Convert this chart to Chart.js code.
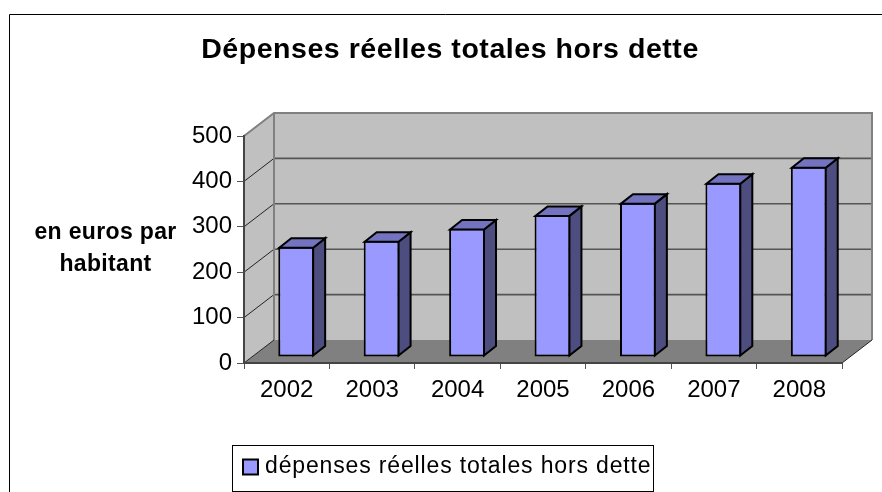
<!DOCTYPE html>
<html><head><meta charset="utf-8">
<style>html,body{margin:0;padding:0;background:#fff}canvas{display:block}</style>
<script src="https://cdn.jsdelivr.net/npm/chart.js@4/dist/chart.umd.min.js"></script>
</head><body><canvas id="c" width="882" height="492"></canvas>
<script>
const categories = ['2002','2003','2004','2005','2006','2007','2008'];
const seriesName = 'dépenses réelles totales hors dette';
const values = [243,256,283,313,340,384,419];
const yAxisLines = ['en euros par','habitant'];
const titleText = 'Dépenses réelles totales hors dette';
const FONT = '"Liberation Sans", Arial, sans-serif';
const DX = 30, DY = 23;         // floor depth
const BDX = 9.5, BDY = 6;       // bar inset from the front edge
const FDX = 12, FDY = 9.5;      // bar depth

function poly(ctx, pts, fill, stroke, lw){
  ctx.beginPath();
  pts.forEach((p,i)=> i?ctx.lineTo(p[0],p[1]):ctx.moveTo(p[0],p[1]));
  ctx.closePath();
  if(fill){ctx.fillStyle=fill;ctx.fill();}
  if(stroke){ctx.strokeStyle=stroke;ctx.lineWidth=lw;ctx.lineJoin='miter';ctx.stroke();}
}
function spaced(box, ctx, sp){
  if(box._spaced) return;
  box._spaced=true;
  const d=box.draw;
  box.draw=function(a){const o=ctx.letterSpacing;ctx.letterSpacing=sp;d.call(box,a);ctx.letterSpacing=o;};
}
const scene = {
  id:'scene',
  afterLayout(chart){
    const t=chart.titleBlock, l=chart.legend;
    t.left=18; t.right=882;
    l.left=237.5; l.right=882; l.top=445.5;
    spaced(t,chart.ctx,'0.55px');
    spaced(l,chart.ctx,'0.85px');
  },
  beforeDraw(chart){
    const ctx=chart.ctx, a=chart.chartArea, y=chart.scales.y;
    const L=a.left,R=a.right,B=a.bottom,T=a.top;
    ctx.save();
    // outer frame
    ctx.strokeStyle='#000';ctx.lineWidth=1;
    ctx.beginPath();ctx.moveTo(9.5,492);ctx.lineTo(9.5,14.5);ctx.lineTo(882,14.5);ctx.stroke();
    // walls and floor
    poly(ctx,[[L,T],[L+DX,T-DY],[L+DX,B-DY],[L,B]],'#c0c0c0');
    poly(ctx,[[L+DX,T-DY],[R+DX,T-DY],[R+DX,B-DY],[L+DX,B-DY]],'#c0c0c0');
    poly(ctx,[[L,B],[L+DX,B-DY],[R+DX,B-DY],[R,B]],'#808080');
    // value lines on the walls
    y.ticks.forEach(tk=>{
      const py=y.getPixelForValue(tk.value);
      if(tk.value===0||tk.value===y.max) return;
      ctx.strokeStyle='#555';ctx.lineWidth=1.6;
      ctx.beginPath();ctx.moveTo(L+DX,py-DY);ctx.lineTo(R+DX,py-DY);ctx.stroke();
      ctx.strokeStyle='#222';ctx.lineWidth=1;
      ctx.beginPath();ctx.moveTo(L,py);ctx.lineTo(L+DX,py-DY);ctx.stroke();
    });
    // wall edges
    ctx.strokeStyle='#808080';ctx.lineWidth=2;
    ctx.beginPath();ctx.moveTo(L,T);ctx.lineTo(L+DX,T-DY);ctx.lineTo(R+DX,T-DY);ctx.lineTo(R+DX,B-DY);ctx.stroke();
    ctx.beginPath();ctx.moveTo(L+DX,T-DY);ctx.lineTo(L+DX,B-DY);ctx.stroke();
    ctx.strokeStyle='#222';ctx.lineWidth=1;
    ctx.beginPath();ctx.moveTo(L,B);ctx.lineTo(L+DX,B-DY);ctx.stroke();
    ctx.beginPath();ctx.moveTo(R,B);ctx.lineTo(R+DX,B-DY);ctx.stroke();
    // y axis caption
    ctx.fillStyle='#000';ctx.font='bold 23px '+FONT;ctx.letterSpacing='0.35px';ctx.textAlign='center';ctx.textBaseline='middle';
    yAxisLines.forEach((s,i)=>ctx.fillText(s,105.5,233+i*32));
    ctx.letterSpacing='0px';
    // legend frame
    ctx.strokeStyle='#000';ctx.lineWidth=1;
    ctx.fillStyle='#fff';
    ctx.fillRect(232.5,445.5,421,46);ctx.strokeRect(232.5,445.5,421,46);
    ctx.restore();
  },
  beforeDatasetsDraw(chart){
    chart.ctx.save();
    chart.ctx.translate(BDX,-BDY);
  },
  afterDatasetsDraw(chart){
    const ctx=chart.ctx;
    chart.getDatasetMeta(0).data.forEach(b=>{
      const p=b.getProps(['x','y','base','width'],true);
      const x0=p.x-p.width/2+1, x1=p.x+p.width/2-1, t=p.y+1, g=p.base-1;
      poly(ctx,[[x1,t],[x1+FDX,t-FDY],[x1+FDX,g-FDY],[x1,g]],'#4d4d80','#000',2);
      poly(ctx,[[x0,t],[x0+FDX,t-FDY],[x1+FDX,t-FDY],[x1,t]],'#7373bf','#000',2);
    });
    ctx.restore();
  }
};
new Chart(document.getElementById('c'),{
  type:'bar',
  data:{labels:categories,datasets:[{label:seriesName,data:values,backgroundColor:'#9999ff',borderColor:'#000',borderWidth:2,borderSkipped:false,barPercentage:0.42,categoryPercentage:1}]},
  plugins:[scene],
  options:{
    responsive:false,animation:false,
    layout:{autoPadding:false,padding:{left:0,right:40,top:0,bottom:0}},
    plugins:{
      tooltip:{enabled:false},
      title:{display:true,text:titleText,color:'#000',font:{family:FONT,size:28.5,weight:'bold',lineHeight:1.2},padding:{top:33,bottom:68.8}},
      legend:{display:true,position:'bottom',align:'start',onClick:null,labels:{color:'#000',font:{family:FONT,size:23},usePointStyle:true,pointStyle:'rect',boxWidth:6,boxHeight:15,padding:10}}
    },
    scales:{
      x:{
        afterFit(s){s.height=129-s.chart.legend.height;},
        grid:{drawOnChartArea:false,color:'#555',tickLength:6,lineWidth:1},
        border:{color:'#444',width:2},
        ticks:{color:'#000',font:{family:FONT,size:24},padding:7,maxRotation:0,autoSkip:false}
      },
      y:{
        min:0,max:500,
        afterFit(s){s.width=244;},
        grid:{drawOnChartArea:false,color:'#555',tickLength:7,lineWidth:1},
        border:{color:'#444',width:2},
        ticks:{stepSize:100,color:'#000',font:{family:FONT,size:24},padding:5}
      }
    }
  }
});
</script></body></html>
